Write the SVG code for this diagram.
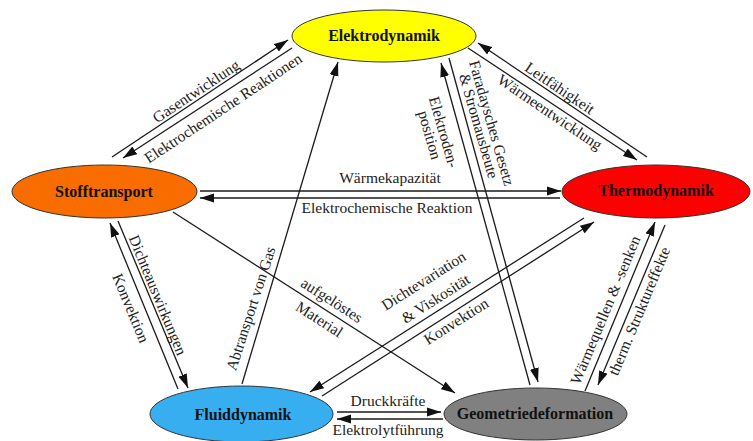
<svg xmlns="http://www.w3.org/2000/svg" width="753" height="441" viewBox="0 0 753 441">
<style>
.n{stroke:#333;stroke-width:1}
.nt{font-family:"Liberation Serif","Times New Roman",serif;font-weight:bold;font-size:16px;fill:#111;text-anchor:middle}
.c{stroke:#1a1a1a;stroke-width:1.3;fill:none}
.a{marker-end:url(#ah)}
.l{font-family:"Liberation Serif","Times New Roman",serif;font-size:15.5px;fill:#222;text-anchor:middle}
</style>
<defs>
<marker id="ah" markerUnits="userSpaceOnUse" markerWidth="15" markerHeight="10" refX="14" refY="5" orient="auto">
<path d="M0,0.5 L14,5 L0,9.5 z" fill="#111"/>
</marker>
</defs>
<rect width="753" height="441" fill="#fff"/>
<g id="connectors">
<line class="c a" x1="112" y1="157" x2="288" y2="40"/>
<line class="c a" x1="292" y1="48" x2="123" y2="158"/>
<line class="c a" x1="647" y1="157" x2="478" y2="43"/>
<line class="c a" x1="468" y1="48" x2="637" y2="160"/>
<line class="c a" x1="200" y1="191" x2="561" y2="191"/>
<line class="c a" x1="560" y1="198" x2="200" y2="198"/>
<line class="c a" x1="242" y1="384" x2="338" y2="62"/>
<line class="c a" x1="173" y1="212" x2="455" y2="393"/>
<line class="c a" x1="584" y1="218" x2="310" y2="392"/>
<line class="c a" x1="322" y1="396" x2="594" y2="222"/>
<line class="c a" x1="530" y1="385" x2="441" y2="63"/>
<line class="c a" x1="449" y1="58" x2="538" y2="382"/>
<line class="c a" x1="585" y1="391" x2="655" y2="222"/>
<line class="c a" x1="665" y1="225" x2="598" y2="385"/>
<line class="c a" x1="178" y1="389" x2="110" y2="223"/>
<line class="c a" x1="118" y1="221" x2="188" y2="388"/>
<line class="c a" x1="337" y1="412" x2="441" y2="412"/>
<line class="c a" x1="443" y1="419" x2="337" y2="419"/>
<g id="labels">
<text class="l" dy="0.35em" transform="translate(196,91) rotate(-33.6)">Gasentwicklung</text>
<text class="l" dy="0.35em" transform="translate(223,108) rotate(-33.6)">Elektrochemische Reaktionen</text>
<text class="l" dy="0.35em" transform="translate(560,88) rotate(34)">Leitfähigkeit</text>
<text class="l" dy="0.35em" transform="translate(550,112) rotate(34)">Wärmeentwicklung</text>
<text class="l" dy="0.35em" x="390" y="178">Wärmekapazität</text>
<text class="l" dy="0.35em" x="387" y="208">Elektrochemische Reaktion</text>
<text class="l" dy="0.35em" transform="translate(250.5,308.5) rotate(-72)">Abtransport von Gas</text>
<text class="l" dy="0.35em" transform="translate(332,300) rotate(32.7)">aufgelöstes</text>
<text class="l" dy="0.35em" transform="translate(319.5,319) rotate(32.7)">Material</text>
<text class="l" dy="0.35em" transform="translate(423.5,280.5) rotate(-32.4)">Dichtevariation</text>
<text class="l" dy="0.35em" transform="translate(435.5,298.5) rotate(-32.4)">&amp; Viskosität</text>
<text class="l" dy="0.35em" transform="translate(456,321) rotate(-32.4)">Konvektion</text>
<text class="l" dy="0.35em" transform="translate(444,132) rotate(74)">Elektroden-</text>
<text class="l" dy="0.35em" transform="translate(430,135) rotate(74)">position</text>
<text class="l" dy="0.35em" transform="translate(492,123) rotate(74)">Faradaysches Gesetz</text>
<text class="l" dy="0.35em" transform="translate(479,126) rotate(74)">&amp; Stromausbeute</text>
<text class="l" dy="0.35em" transform="translate(605,310) rotate(-67.4)">Wärmequellen &amp; -senken</text>
<text class="l" dy="0.35em" transform="translate(639,311) rotate(-67.4)">therm. Struktureffekte</text>
<text class="l" dy="0.35em" transform="translate(158,295) rotate(67.5)">Dichteauswirkungen</text>
<text class="l" dy="0.35em" transform="translate(131,308) rotate(67.5)">Konvektion</text>
<text class="l" x="388" y="406">Druckkräfte</text>
<text class="l" x="388" y="435">Elektrolytführung</text>
</g>
</g>
<g id="elektrodynamik">
<ellipse class="n" cx="384" cy="36" rx="92" ry="26" fill="#ffff00"/>
<text class="nt" x="384" y="41">Elektrodynamik</text>
</g>
<g id="stofftransport">
<ellipse class="n" cx="104.5" cy="191.5" rx="92.5" ry="26.5" fill="#f86c00"/>
<text class="nt" x="104" y="197">Stofftransport</text>
</g>
<g id="thermodynamik">
<ellipse class="n" cx="656" cy="191.5" rx="94" ry="26.5" fill="#ff0000"/>
<text class="nt" x="656" y="196">Thermodynamik</text>
</g>
<g id="fluiddynamik">
<ellipse class="n" cx="241.5" cy="414" rx="91.5" ry="28" fill="#36aef0"/>
<text class="nt" x="243" y="420">Fluiddynamik</text>
</g>
<g id="geometriedeformation">
<ellipse class="n" cx="535.5" cy="414" rx="91.5" ry="26" fill="#808080"/>
<text class="nt" x="535" y="419">Geometriedeformation</text>
</g>
</svg>
